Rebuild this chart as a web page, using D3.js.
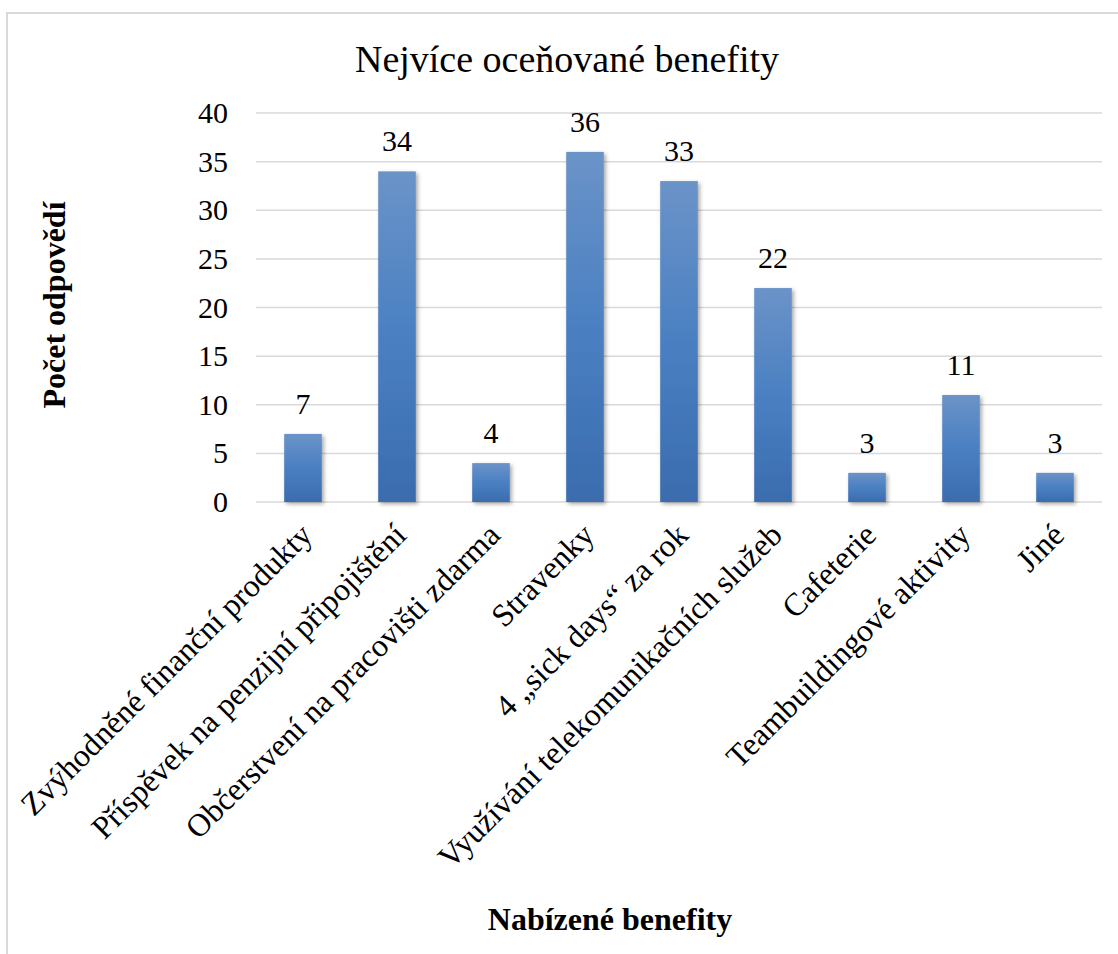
<!DOCTYPE html>
<html>
<head>
<meta charset="utf-8">
<script src="https://cdn.jsdelivr.net/npm/d3@7"></script>
<style>
  html, body { margin: 0; padding: 0; background: #fff; }
  svg { display: block; }
  text { font-family: "Liberation Serif", "Times New Roman", serif; fill: #000; }
</style>
</head>
<body>
<svg id="chart" width="1118" height="954"></svg>
<script>
// Survey data: most valued employee benefits
const categories = [
  "Zvýhodněné finanční produkty",
  "Příspěvek na penzijní připojištění",
  "Občerstvení na pracovišti zdarma",
  "Stravenky",
  "4 „sick days“ za rok",
  "Využívání telekomunikačních služeb",
  "Cafeterie",
  "Teambuildingové aktivity",
  "Jiné"
];
const counts = [7, 34, 4, 36, 33, 22, 3, 11, 3];
const yTicks = [0, 5, 10, 15, 20, 25, 30, 35, 40];

const chartTitle = "Nejvíce oceňované benefity";
const yTitle = "Počet odpovědí";
const xTitle = "Nabízené benefity";

const svg = d3.select("#chart");
const W = 1118, H = 954;
const plot = { left: 256, right: 1102, top: 113, bottom: 502 };

// Chart area frame
svg.append("rect")
  .attr("x", 7).attr("y", 13)
  .attr("width", W + 20).attr("height", H + 20)
  .attr("fill", "#fff").attr("stroke", "#d9d9d9").attr("stroke-width", 2);

const defs = svg.append("defs");
const grad = defs.append("linearGradient")
  .attr("id", "barFill").attr("x1", 0).attr("y1", 0).attr("x2", 0).attr("y2", 1);
grad.append("stop").attr("offset", "0%").attr("stop-color", "#6b93c8");
grad.append("stop").attr("offset", "50%").attr("stop-color", "#4a80c2");
grad.append("stop").attr("offset", "100%").attr("stop-color", "#3a6cae");

const shadow = defs.append("filter").attr("id", "barShadow")
  .attr("x", "-20%").attr("y", "-10%").attr("width", "150%").attr("height", "130%");
shadow.append("feGaussianBlur").attr("in", "SourceAlpha").attr("stdDeviation", 2).attr("result", "blur");
shadow.append("feOffset").attr("in", "blur").attr("dx", 2).attr("dy", 2).attr("result", "off");
shadow.append("feComponentTransfer").attr("in", "off").attr("result", "soft")
  .append("feFuncA").attr("type", "linear").attr("slope", 0.35);
const merge = shadow.append("feMerge");
merge.append("feMergeNode").attr("in", "soft");
merge.append("feMergeNode").attr("in", "SourceGraphic");

const x = d3.scaleBand()
  .domain(categories)
  .range([plot.left, plot.right])
  .paddingInner(0.6).paddingOuter(0.3);

const y = d3.scaleLinear()
  .domain([0, 40])
  .range([plot.bottom, plot.top]);

// Horizontal gridlines
svg.append("g")
  .selectAll("line")
  .data(yTicks)
  .join("line")
  .attr("x1", plot.left).attr("x2", plot.right)
  .attr("y1", d => y(d)).attr("y2", d => y(d))
  .attr("stroke", "#d9d9d9").attr("stroke-width", 1.5);

// Y axis labels
const yAxis = d3.axisLeft(y).tickValues(yTicks).tickSize(0).tickPadding(0);
const gy = svg.append("g")
  .attr("transform", `translate(${plot.left - 28},0)`)
  .call(yAxis);
gy.select(".domain").remove();
gy.selectAll("text")
  .attr("font-size", 30)
  .attr("font-family", "Liberation Serif, serif")
  .attr("fill", "#000");

// Bars
svg.append("g")
  .selectAll("rect")
  .data(counts)
  .join("rect")
  .attr("x", (d, i) => x(categories[i]))
  .attr("y", d => y(d))
  .attr("width", x.bandwidth())
  .attr("height", d => y(0) - y(d))
  .attr("fill", "url(#barFill)")
  .attr("filter", "url(#barShadow)");

// Value labels
svg.append("g")
  .selectAll("text")
  .data(counts)
  .join("text")
  .attr("x", (d, i) => x(categories[i]) + x.bandwidth() / 2)
  .attr("y", d => y(d) - 20)
  .attr("text-anchor", "middle")
  .attr("font-size", 30)
  .text(d => d);

// Category labels, rotated
const xAxis = d3.axisBottom(x).tickSize(0).tickPadding(0);
const gx = svg.append("g")
  .attr("transform", `translate(0,${plot.bottom})`)
  .call(xAxis);
gx.select(".domain").remove();
gx.selectAll(".tick text")
  .attr("font-size", 32)
  .attr("font-family", "Liberation Serif, serif")
  .attr("fill", "#000")
  .attr("text-anchor", "end")
  .attr("dy", null)
  .attr("y", 0)
  .attr("transform", "translate(11,35) rotate(-45)");

// Titles
svg.append("text")
  .attr("x", 567).attr("y", 72)
  .attr("text-anchor", "middle")
  .attr("font-size", 38)
  .text(chartTitle);

svg.append("text")
  .attr("transform", "translate(65,305) rotate(-90)")
  .attr("text-anchor", "middle")
  .attr("font-size", 32)
  .attr("font-weight", "bold")
  .text(yTitle);

svg.append("text")
  .attr("x", 610).attr("y", 930)
  .attr("text-anchor", "middle")
  .attr("font-size", 32)
  .attr("font-weight", "bold")
  .text(xTitle);
</script>
</body>
</html>
